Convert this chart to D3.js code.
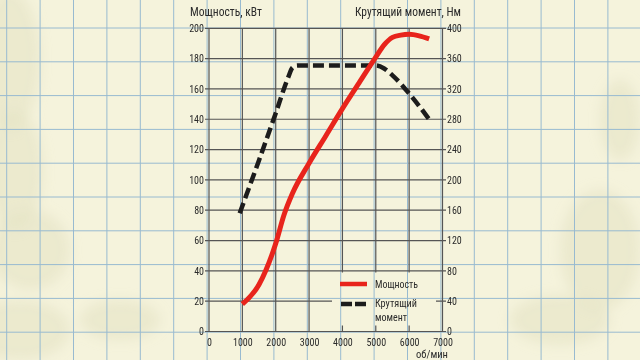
<!DOCTYPE html>
<html><head><meta charset="utf-8">
<script src="https://cdn.jsdelivr.net/npm/d3@7/dist/d3.min.js"></script>
<style>
html,body{margin:0;padding:0;background:#f5f3dc;}
svg{display:block;}
text{font-family:"Liberation Sans Narrow","Roboto Condensed","Roboto",sans-serif;fill:#2b2b2b;}
</style></head>
<body>
<svg id="c" width="640" height="360"></svg>
<script>
// ---- data ----
const rpmTicks = [0,1000,2000,3000,4000,5000,6000,7000];
const powerTicks = [0,20,40,60,80,100,120,140,160,180,200];
const torqueTicks = [0,40,80,120,160,200,240,280,320,360,400];
const powerRpm = [1000,1500,2000,2250,2500,3000,3500,4000,4500,5000,5250,5500,5750,6000,6300,6600];
const powerKw  = [18,31,58,77,91,111,129,147,164,181,189,194,195.5,196,195,193];
const torqueRpm = [920,1500,2000,2380,2500,2650,3000,4000,5000,5250,5500,6000,6600];
const torqueNm  = [156,226,288,336,348,351,351,351,351,347,338,314,280];
const legendLabels = ["Мощность","Крутящий","момент"];
const titleLeft = "Мощность, кВт";
const titleRight = "Крутящий момент, Нм";
const xUnit = "об/мин";

const svg = d3.select("#c");
const W=640,H=360;
// background paper
svg.append("rect").attr("width",W).attr("height",H).attr("fill","#f5f3dc");
const defs = svg.append("defs");
defs.append("filter").attr("id","blur").append("feGaussianBlur").attr("stdDeviation",6);
const blobs = [[10,60,30,70],[15,170,28,60],[30,250,40,40],[20,330,50,30],[600,250,40,60],[620,120,20,40],[120,320,40,20],[560,320,50,25]];
svg.append("g").attr("filter","url(#blur)").selectAll("ellipse").data(blobs).join("ellipse")
  .attr("cx",d=>d[0]).attr("cy",d=>d[1]).attr("rx",d=>d[2]).attr("ry",d=>d[3])
  .attr("fill","#e4e2c2").attr("opacity",0.55);

// paper grid
const pg = svg.append("g").attr("stroke","#98bad0").attr("stroke-width",1);
d3.range(6.7,W,33.4).forEach(x=>pg.append("line").attr("x1",x).attr("x2",x).attr("y1",0).attr("y2",H));
d3.range(28,H,33.8).forEach(y=>pg.append("line").attr("x1",0).attr("x2",W).attr("y1",y).attr("y2",y));

// scales
const x = d3.scaleLinear().domain([0,7000]).range([209,442.5]);
const yP = d3.scaleLinear().domain([0,200]).range([331.5,28.3]);
const yT = d3.scaleLinear().domain([0,400]).range([331.5,28.3]);

// mask for legend box
const mask = defs.append("mask").attr("id","lm");
mask.append("rect").attr("width",W).attr("height",H).attr("fill","#fff");
mask.append("rect").attr("x",332).attr("y",272.5).attr("width",104).attr("height",53).attr("fill","#000");

const grid = svg.append("g").attr("mask","url(#lm)").attr("stroke","#555").attr("stroke-width",1.2);
grid.selectAll(".h").data(powerTicks).join("line")
  .attr("x1",205).attr("x2",446).attr("y1",d=>yP(d)).attr("y2",d=>yP(d));
grid.selectAll(".v").data(rpmTicks).join("line")
  .attr("x1",d=>x(d)).attr("x2",d=>x(d)).attr("y1",yP(200)).attr("y2",yP(0));

// axes labels
const fs = 10;
const ax1 = svg.append("g").attr("transform","translate(204,0)")
  .call(d3.axisLeft(yP).tickValues(powerTicks).tickSize(0).tickPadding(0));
const ax2 = svg.append("g").attr("transform","translate(447,0)")
  .call(d3.axisRight(yT).tickValues(torqueTicks).tickSize(0).tickPadding(0));
const ax3 = svg.append("g").attr("transform","translate(0,339.3)")
  .call(d3.axisBottom(x).tickValues(rpmTicks).tickSize(0).tickPadding(0).tickFormat(d3.format("d")));
[ax1,ax2,ax3].forEach(a=>{a.select(".domain").remove();
  a.selectAll("text").attr("font-size",fs).attr("fill","#2b2b2b")
   .attr("font-family",'"Liberation Sans Narrow","Roboto Condensed","Roboto",sans-serif');});

// curves
const line = d3.line().curve(d3.curveMonotoneX);
svg.append("path").attr("d",line.x((d,i)=>x(torqueRpm[i])).y((d,i)=>yT(torqueNm[i]))(torqueNm))
  .attr("fill","none").attr("stroke","#1c1c1c").attr("stroke-width",4.5).attr("stroke-dasharray","11,5");
svg.append("path").attr("d",line.x((d,i)=>x(powerRpm[i])).y((d,i)=>yP(powerKw[i]))(powerKw))
  .attr("fill","none").attr("stroke","#e8241c").attr("stroke-width",5);

// legend
svg.append("line").attr("x1",340).attr("x2",367).attr("y1",284).attr("y2",284).attr("stroke","#e8241c").attr("stroke-width",4.5);
svg.append("line").attr("x1",341).attr("x2",367).attr("y1",304).attr("y2",304).attr("stroke","#1c1c1c").attr("stroke-width",4.5).attr("stroke-dasharray","11,3");
const lg = [[legendLabels[0],288,43],[legendLabels[1],307,42],[legendLabels[2],321,32]];
lg.forEach(d=>svg.append("text").attr("x",375).attr("y",d[1]).attr("font-size",11)
  .attr("textLength",d[2]).attr("lengthAdjust","spacingAndGlyphs").text(d[0]));

// titles
svg.append("text").attr("x",190).attr("y",16).attr("font-size",12.5)
  .attr("textLength",72).attr("lengthAdjust","spacingAndGlyphs").text(titleLeft);
svg.append("text").attr("x",355).attr("y",16).attr("font-size",12.5)
  .attr("textLength",106).attr("lengthAdjust","spacingAndGlyphs").text(titleRight);
svg.append("text").attr("x",416).attr("y",358.3).attr("font-size",11)
  .attr("textLength",32).attr("lengthAdjust","spacingAndGlyphs").text(xUnit);
</script>
</body></html>
